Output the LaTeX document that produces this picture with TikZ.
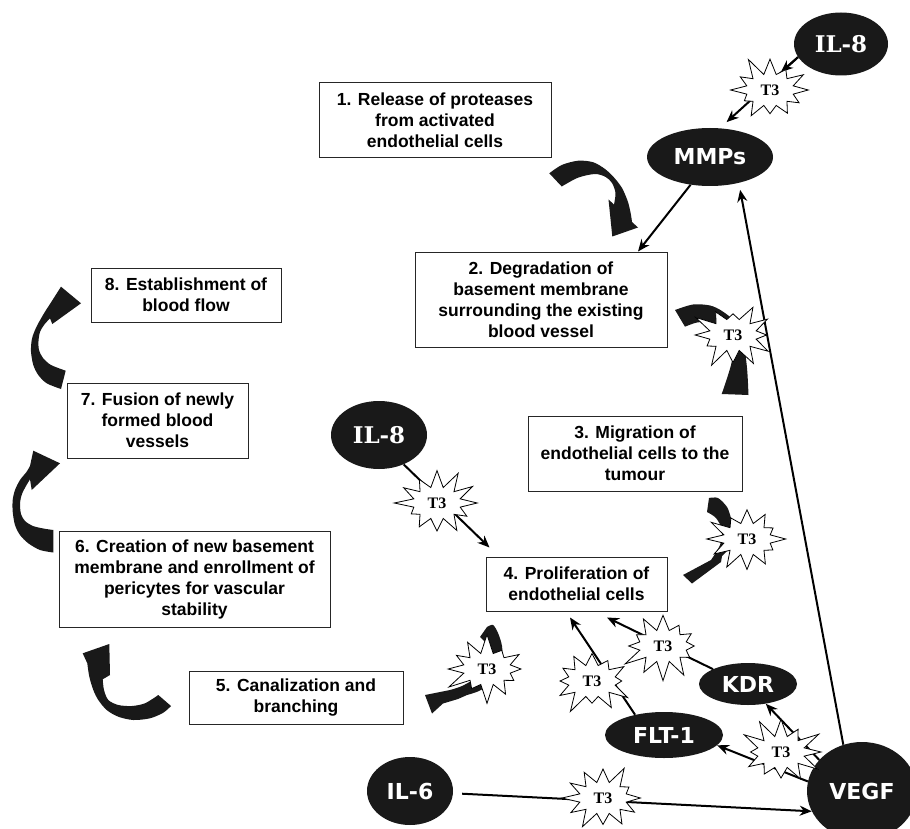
\documentclass[tikz,border=0pt]{standalone}
\usepackage{fontspec}
\setmainfont{Liberation Sans}
\newfontfamily\dvsans{DejaVu Sans}
\newfontfamily\dvserif{DejaVu Serif}
\newfontfamily\tmsfont{Liberation Serif}
\usetikzlibrary{shapes.geometric,shapes.symbols,arrows.meta,calc}
\begin{document}
\begin{tikzpicture}[x=1pt,y=-1pt,
  box/.style={draw=black!85,line width=1pt,fill=white,align=center,inner sep=0pt,font=\bfseries\fontsize{17.5}{21}\selectfont},
  blob/.style={ellipse,fill=black!90,text=white,inner sep=0pt,font=\dvsans\bfseries\fontsize{22}{22}\selectfont},
  blobserif/.style={blob,font=\dvserif\bfseries\fontsize{23}{23}\selectfont},
  t3/.style={starburst,starburst points=12,starburst point height=20pt,draw=black,line width=0.8pt,fill=white,inner sep=0pt,minimum width=88pt,minimum height=72pt,font=\tmsfont\bfseries\fontsize{16}{16}\selectfont,random starburst=#1},
  arr/.style={line width=2pt,-{Stealth[length=12pt,width=10pt]}},
  blockarrow/.style={fill=black!90}]
\useasboundingbox (0,0) rectangle (910,829);

% boxes
\node[box,minimum width=232pt,minimum height=75pt] (b1) at (435,120.5) {1. Release of proteases\\from activated\\endothelial cells};
\node[box,minimum width=252pt,minimum height=95pt] (b2) at (541,299.5) {2. Degradation of\\basement membrane\\surrounding the existing\\blood vessel};
\node[box,minimum width=214pt,minimum height=75pt] (b3) at (635,453.5) {3. Migration of\\endothelial cells to the\\tumour};
\node[box,minimum width=181pt,minimum height=54pt] (b4) at (576.5,584) {4. Proliferation of\\endothelial cells};
\node[box,minimum width=214pt,minimum height=53pt] (b5) at (296,697.5) {5. Canalization and\\branching};
\node[box,minimum width=271pt,minimum height=96pt] (b6) at (194.5,579) {6. Creation of new basement\\membrane and enrollment of\\pericytes for vascular\\stability};
\node[box,minimum width=181pt,minimum height=75pt] (b7) at (157.5,420.5) {7. Fusion of newly\\formed blood\\vessels};
\node[box,minimum width=190pt,minimum height=54pt] (b8) at (186,295) {8. Establishment of\\blood flow};

% ellipses
\node[blobserif,minimum width=94pt,minimum height=63pt] (il8a) at (841,44) {IL-8};
\node[blob,minimum width=126pt,minimum height=58pt] (mmps) at (710,157) {MMPs};
\node[blobserif,minimum width=96pt,minimum height=68pt] (il8b) at (379,435) {IL-8};
\node[blob,minimum width=86pt,minimum height=68pt] (il6) at (410,791) {IL-6};
\node[blob,minimum width=98pt,minimum height=42pt] (kdr) at (748,684) {KDR};
\node[blob,minimum width=118pt,minimum height=46pt] (flt) at (664,735) {FLT-1};
\node[blob,minimum width=110pt,minimum height=98pt] (vegf) at (862,791) {VEGF};

% thin arrows
\coordinate (s1head) at (781,72);
\draw[arr,shorten >=9pt] (il8a.197) -- (mmps.71);
\draw[arr] (il8a.197) -- (s1head);
\draw[arr] (mmps.235) -- ([xshift=97pt]b2.north);
\draw[arr,shorten >=7pt] (vegf.112) -- (mmps.318);
\draw[arr] (il8b.310) -- ([xshift=4pt,yshift=9pt]b4.north west);
\draw[arr] (kdr.157) -- ([xshift=30.5pt,yshift=-6pt]b4.south);
\draw[arr] (flt.145) -- ([xshift=-6.5pt,yshift=-6pt]b4.south);
\draw[arr] (vegf.144) -- (kdr.312);
\draw[arr] (vegf.170) -- (flt.349);
\draw[arr,shorten <=9pt] (il6.357) -- (vegf.202);

% curved block arrows
% A: 1 -> 2
\fill[blockarrow] (549.3,173.3) -- plot[smooth] coordinates {(549.3,173.3)(561.7,165)(578.3,160.7)(593.3,162.3)(605,169)(614,177.5)(622,188)(628,202)(631,215)(632,222)} -- (638,227.5) -- (612.3,236.5) -- (608.5,199.5) -- (614,204.5) -- plot[smooth] coordinates {(614,204.5)(615.5,193)(612,183)(605.7,177)(595,174)(578,177.7)(561.7,186.5)} -- cycle;
% B: 2 -> 3
\fill[blockarrow] (675,310) -- plot[smooth] coordinates {(675,310)(693,304.5)(710,305.5)(722,311)(735,322)(743,340)(747,368)(748.5,395)} -- (721.7,394) -- plot[smooth] coordinates {(721.7,394)(731.7,362)(731,342)(722,329)(710,322.5)(697,322.5)(685,326.7)} -- cycle;
% C: 3 -> 4
\fill[blockarrow] (709,498) -- plot[smooth] coordinates {(709,498)(718,498)(727,507)(731,518)(735,532)(731,546)(722,556)} -- (721,562) -- (692,583.5) -- (683,575) -- (711,560) -- plot[smooth] coordinates {(711,560)(720,545)(722,530)(716,518)(707,512)} -- cycle;
% D: 4 -> 5
\fill[blockarrow] (480,637) -- (487,627) -- plot[smooth] coordinates {(487,627)(493,625)(498,633)(502,646)(502,662)(495,678)(481,690)(467,695)} -- (458,699) -- (443,703.5) -- (432,713.5) -- (425,695) -- (450,690) -- plot[smooth] coordinates {(450,690)(462,686)(477,677)(486,664)(488,650)(484,641)} -- cycle;
% E: 5 -> 6
\fill[blockarrow] (158.3,695) -- (171,706) -- plot[smooth] coordinates {(171,706)(163.3,712.7)(150,718.3)(133.3,720)(118.3,716.7)(106.7,710)(98.3,700)(93.3,690)(89.3,676.7)(87.3,663.3)} -- (82.7,653.3) -- (109.3,644) -- (110,675) -- (102.7,679.3) -- plot[smooth] coordinates {(102.7,679.3)(104,690)(108.3,700)(118.3,705)(131.7,706)(145,703.3)(158.3,695)} -- cycle;
% F: 6 -> 7
\fill[blockarrow] (53.3,530) -- (53.3,552.5) -- plot[smooth] coordinates {(53.3,552.5)(40,550)(28.3,543.3)(20,535)(15,525)(12.7,511.7)(12.7,500)(15,490)(20,480)(26.7,471.7)(30,466)} -- (33.3,450.7) -- (60,463.3) -- (31.7,490) -- (30,479.3) -- plot[smooth] coordinates {(30,479.3)(26,486)(22,494)(20,503)(21,514)(25,521)(33,526)(43.3,528.5)(53.3,530)} -- cycle;
% G: 7 -> 8
\fill[blockarrow] (65.7,370.7) -- (61,389) -- plot[smooth] coordinates {(61,389)(46.7,383.3)(38.3,375)(33.3,365)(31,351.7)(31.7,340)(34.3,331.7)(38.3,323.3)(45,311.7)(50,304)} -- (61,286.7) -- (81,303.3) -- (52.3,324) -- (50,318.3) -- plot[smooth] coordinates {(50,318.3)(44,325)(40,332)(38.5,341)(39,350)(43,358)(51,365)(65.7,370.7)} -- cycle;

% T3 stars
\node[t3=11] (s1) at (770,90) {T3};
\node[t3=23] (s2) at (733,335) {T3};
\node[t3=37] (s3) at (437,503) {T3};
\node[t3=41] (s4) at (747,539) {T3};
\node[t3=53] (s5) at (487,669) {T3};
\node[t3=67] (s6) at (663,646) {T3};
\node[t3=71] (s7) at (592,681) {T3};
\node[t3=83] (s8) at (781,752) {T3};
\node[t3=97] (s9) at (603,798) {T3};
\end{tikzpicture}
\end{document}
